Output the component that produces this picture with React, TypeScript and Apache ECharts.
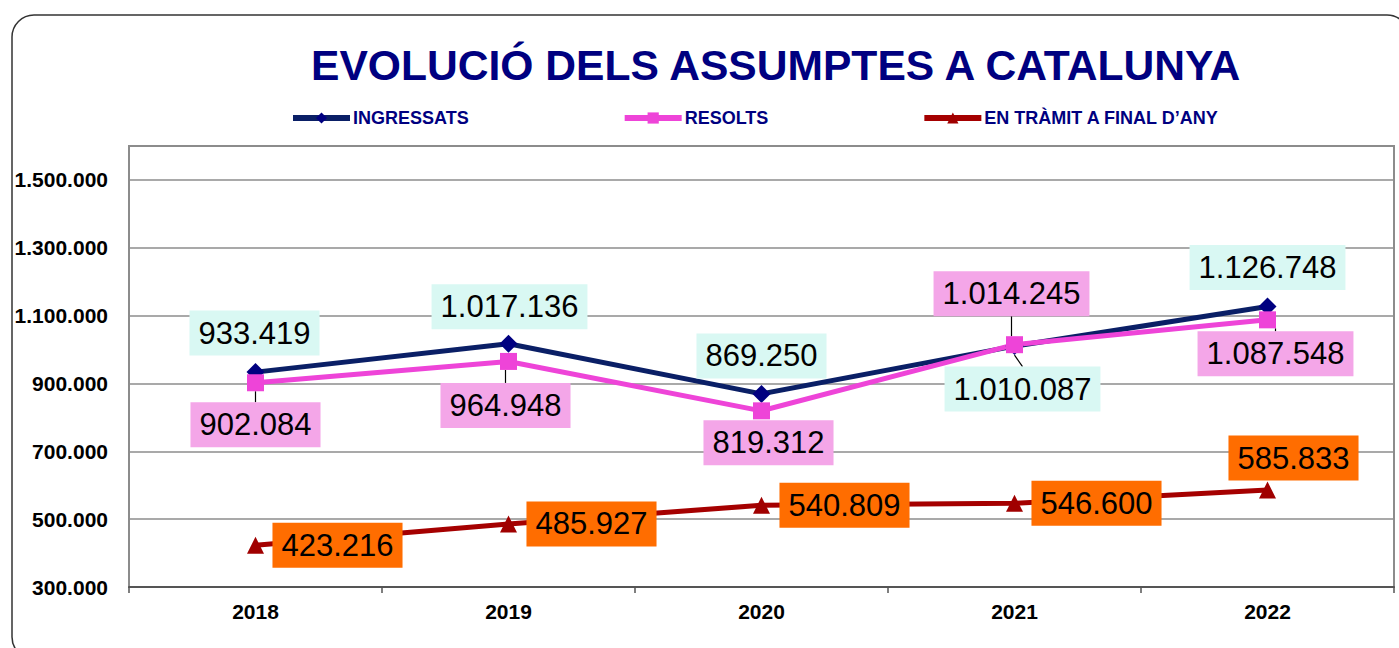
import React, { useEffect, useRef } from 'react';
import * as echarts from 'echarts';

const years = ['2018', '2019', '2020', '2021', '2022'];
const ingressats = [933419, 1017136, 869250, 1010087, 1126748];
const resolts = [902084, 964948, 819312, 1014245, 1087548];
const tramit = [423216, 485927, 540809, 546600, 585833];
const seriesNames = ['INGRESSATS', 'RESOLTS', 'EN TRÀMIT A FINAL D’ANY'];
const titleText = 'EVOLUCIÓ DELS ASSUMPTES A CATALUNYA';

// label placement (offset of label centre from its point), layout only
const ingOff = [[-1, -39], [1, -37], [0, -38], [8, 43], [0, -39]];
const resOff = [[0, 42], [-3, 44], [7, 32], [-3, -51], [8, 34]];
const traOff = [[82, 0], [83, 0], [83, 0], [82, 0], [26, -32]];
const ingLead = [false, false, false, true, false];
const resLead = [true, true, false, true, true];
const traLead = [false, false, false, false, false];

const FONT = 'Arial, "Liberation Sans", Helvetica, sans-serif';

const fmt = (v: number) => String(Math.round(v)).replace(/\B(?=(\d{3})+(?!\d))/g, '.');

function makeSeries(
  name: string,
  values: number[],
  off: number[][],
  lead: boolean[],
  lineColor: string,
  markColor: string,
  symbol: string,
  symbolSize: number,
  bg: string
) {
  return {
    name,
    type: 'line',
    data: values.map((v, i) => ({
      value: v,
      labelLine: { show: lead[i], lineStyle: { color: '#000', width: 1.2 } },
    })),
    symbol,
    symbolSize,
    showAllSymbol: true,
    lineStyle: { color: lineColor, width: 5 },
    itemStyle: { color: markColor, borderWidth: 0 },
    label: {
      show: true,
      formatter: (p: any) => fmt(p.value),
      fontSize: 31,
      fontFamily: FONT,
      color: '#000',
      backgroundColor: bg,
      padding: [4, 9, 4, 9],
      lineHeight: 37,
    },
    labelLine: { show: false, lineStyle: { color: '#000', width: 1.2 } },
    labelLayout: (p: any) => {
      const r = p.rect;
      const o = off[p.dataIndex];
      return {
        x: r.x + r.width / 2 + o[0],
        y: r.y + r.height / 2 + o[1],
        align: 'center',
        verticalAlign: 'middle',
      };
    },
    emphasis: { disabled: true },
  };
}

export default function App() {
  const ref = useRef<HTMLDivElement>(null);

  useEffect(() => {
    if (!ref.current) return;
    const chart = echarts.init(ref.current, undefined, { renderer: 'svg' });
    chart.setOption({
      animation: false,
      backgroundColor: '#fff',
      title: {
        text: titleText,
        left: 306,
        top: 38,
        textStyle: { fontSize: 42.6, fontWeight: 'bold', color: '#000080', fontFamily: FONT },
      },
      legend: {
        data: seriesNames,
        left: 285,
        top: 104,
        itemWidth: 57,
        itemHeight: 14,
        itemGap: 153,
        selectedMode: false,
        lineStyle: { width: 6 },
        textStyle: { fontSize: 18, fontWeight: 'bold', color: '#000080', fontFamily: FONT, padding: [0, 0, 0, -2] },
      },
      grid: {
        left: 129,
        right: 5,
        top: 146,
        bottom: 61,
        show: true,
        borderColor: '#8c8c8c',
        borderWidth: 2,
        containLabel: false,
      },
      xAxis: {
        type: 'category',
        data: years,
        boundaryGap: true,
        axisLine: { lineStyle: { color: '#555', width: 2 } },
        axisTick: { show: true, interval: 0, length: 6, lineStyle: { color: '#555', width: 1.5 } },
        axisLabel: { fontSize: 21, fontWeight: 'bold', color: '#000', fontFamily: FONT, margin: 14 },
        splitLine: { show: false },
      },
      yAxis: {
        type: 'value',
        min: 300000,
        max: 1600000,
        interval: 100000,
        axisLine: { show: true, lineStyle: { color: '#8c8c8c', width: 2 } },
        axisTick: { show: false },
        axisLabel: {
          fontSize: 21,
          fontWeight: 'bold',
          color: '#000',
          fontFamily: FONT,
          margin: 21,
          formatter: (v: number) => ((v - 300000) % 200000 === 0 && v < 1600000 ? fmt(v) : ''),
        },
        splitLine: { show: true, lineStyle: { color: ['#8c8c8c', 'rgba(0,0,0,0)'], width: 1.5 } },
      },
      graphic: [
        {
          type: 'rect',
          silent: true,
          z: -10,
          shape: { x: 12, y: 15, width: 1397, height: 644, r: 22 },
          style: { fill: 'none', stroke: '#333', lineWidth: 1.5 },
        },
      ],
      series: [
        makeSeries(seriesNames[0], ingressats, ingOff, ingLead, '#0a1f66', '#000080', 'diamond', 18, '#d9f8f3'),
        makeSeries(seriesNames[1], resolts, resOff, resLead, '#ee44d8', '#ee44d8', 'rect', 17, '#f4a6e8'),
        makeSeries(seriesNames[2], tramit, traOff, traLead, '#a50000', '#a00000', 'triangle', 17, '#ff6d00'),
      ],
    });
    return () => chart.dispose();
  }, []);

  return (
    <div
      ref={ref}
      style={{ position: 'fixed', left: 0, top: 0, width: 1399, height: 648, background: '#fff' }}
    />
  );
}
